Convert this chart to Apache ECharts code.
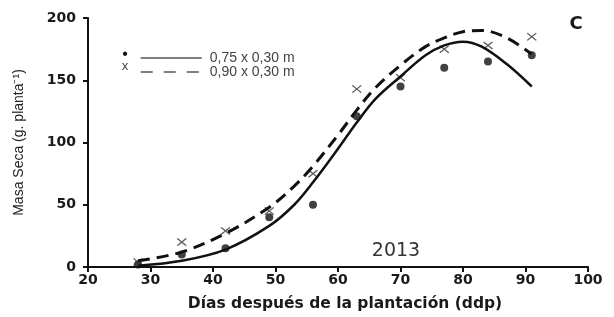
<!DOCTYPE html>
<html lang="es">
<head>
    <meta charset="UTF-8">
    <title>Masa Seca 2013</title>
    <script src="https://cdn.jsdelivr.net/npm/echarts@6.0.0/dist/echarts.min.js"></script>
</head>
<body style="margin:0">
<div id="main" style="width: 614px;height:317px;"></div>
<script type="text/javascript">

    // muestreos (ddp)
    let dias = [28, 35, 42, 49, 56, 63, 70, 77, 84, 91]
    // observados
    let obs075 = [2, 10, 15, 40, 50, 121, 145, 160, 165, 170]
    let obs090 = [4, 20, 29, 45, 75, 143, 152, 175, 178, 185]
    // curvas ajustadas
    let curvaX = [28, 35, 42, 49, 53, 56, 60, 63, 66, 70, 74, 77, 80, 83, 87, 91]
    let curva075 = [1, 5, 14, 33, 50, 68, 95, 116, 135, 153, 170, 178, 181, 177, 163, 145]
    let curva090 = [5, 12, 27, 48, 65, 81, 106, 126, 144, 162, 177, 184, 189, 190, 184, 171]
    let xTicks = [20, 30, 40, 50, 60, 70, 80, 90, 100]
    let yTicks = [0, 50, 100, 150, 200]

    const pares = (xs, ys) => xs.map((x, i) => [x, ys[i]])
    const cruz = 'path://M0,1L1,0L5,4L9,0L10,1L6,5L10,9L9,10L5,6L1,10L0,9L4,5Z'
    const negrita = {fontFamily: 'DejaVu Sans', fontWeight: 'bold', color: '#1a1a1a'}

    option = {
        backgroundColor: '#fff',
        animation: false,
        grid: {left: 88, right: 26, top: 18, bottom: 49},
        legend: {
            orient: 'vertical',
            left: 135,
            top: 46,
            itemWidth: 61,
            itemHeight: 14,
            itemGap: 0,
            itemStyle: {opacity: 0},
            data: [
                {name: '0,75 x 0,30 m', lineStyle: {width: 1.5, color: '#555', type: 'solid'}},
                {name: '0,90 x 0,30 m', lineStyle: {width: 1.5, color: '#555', type: [12, 11]}}
            ],
            textStyle: {fontFamily: 'Liberation Sans', fontSize: 14, color: '#444', padding: [0, 0, 0, 3]}
        },
        xAxis: {
            type: 'value',
            min: xTicks[0],
            max: xTicks[xTicks.length - 1],
            interval: 10,
            name: 'Días después de la plantación (ddp)',
            nameLocation: 'middle',
            nameGap: 29,
            nameTextStyle: Object.assign({fontSize: 15.5, padding: [0, 0, 0, 14]}, negrita),
            axisLine: {lineStyle: {color: '#111', width: 2}},
            axisTick: {length: 5, lineStyle: {color: '#111', width: 2}},
            axisLabel: Object.assign({fontSize: 14, margin: 6}, negrita),
            splitLine: {show: false}
        },
        yAxis: {
            type: 'value',
            min: yTicks[0],
            max: yTicks[yTicks.length - 1],
            interval: 50,
            name: 'Masa Seca (g. planta⁻¹)',
            nameLocation: 'middle',
            nameGap: 62,
            nameTextStyle: {fontFamily: 'Liberation Sans', fontSize: 14, color: '#222'},
            axisLine: {show: true, lineStyle: {color: '#111', width: 2}},
            axisTick: {show: true, length: 5, lineStyle: {color: '#111', width: 2}},
            axisLabel: Object.assign({fontSize: 14, margin: 12}, negrita),
            splitLine: {show: false}
        },
        graphic: [
            {type: 'text', x: 125, y: 55, style: {text: '•', fontSize: 16, fill: '#111', align: 'center', verticalAlign: 'middle', fontFamily: 'Liberation Sans'}},
            {type: 'text', x: 125, y: 66, style: {text: 'x', fontSize: 13, fill: '#444', align: 'center', verticalAlign: 'middle', fontFamily: 'Liberation Sans'}},
            {type: 'text', x: 576, y: 24, style: {text: 'C', fontSize: 18, fontWeight: 'bold', fill: '#1a1a1a', align: 'center', verticalAlign: 'middle', fontFamily: 'DejaVu Sans'}},
            {type: 'text', x: 396, y: 251, style: {text: '2013', fontSize: 19, fill: '#333', align: 'center', verticalAlign: 'middle', fontFamily: 'DejaVu Sans'}}
        ],
        series: [
            {
                name: '0,75 x 0,30 m',
                type: 'line',
                smooth: 0.35,
                symbol: 'none',
                itemStyle: {color: '#111'},
                lineStyle: {color: '#111', width: 2.5},
                data: pares(curvaX, curva075)
            },
            {
                name: '0,90 x 0,30 m',
                type: 'line',
                smooth: 0.35,
                symbol: 'none',
                itemStyle: {color: '#111'},
                lineStyle: {color: '#111', width: 3, type: [12, 7]},
                data: pares(curvaX, curva090)
            },
            {
                name: 'obs075',
                type: 'scatter',
                symbol: 'circle',
                symbolSize: 8,
                itemStyle: {color: '#111'},
                data: pares(dias, obs075)
            },
            {
                name: 'obs090',
                type: 'scatter',
                symbol: cruz,
                symbolSize: [10, 8],
                itemStyle: {color: '#333'},
                data: pares(dias, obs090)
            }
        ]
    };

    let myChart = echarts.init(document.getElementById('main'));
    myChart.setOption(option)
</script>
</body>
</html>
